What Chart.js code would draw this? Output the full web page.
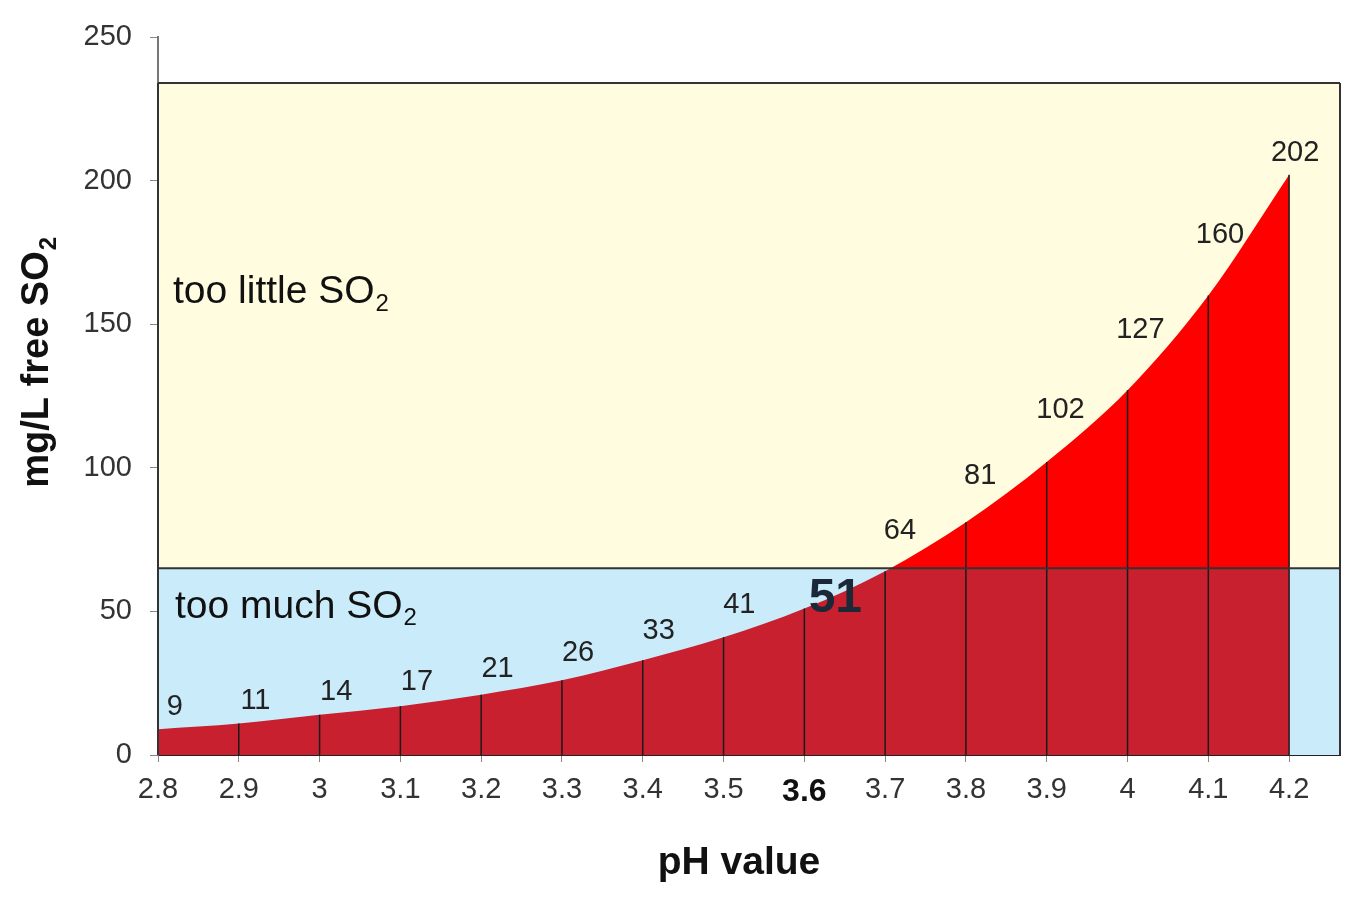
<!DOCTYPE html>
<html>
<head>
<meta charset="utf-8">
<title>Free SO2 needed by pH</title>
<script src="https://cdn.jsdelivr.net/npm/chart.js@4.4.1/dist/chart.umd.min.js"></script>
<style>
  html, body { margin: 0; padding: 0; background: #fff; }
  #wrap { width: 1362px; height: 900px; position: relative; }
</style>
</head>
<body>
<div id="wrap"><canvas id="so2Chart"></canvas></div>
<script>
// pH values along the x axis
var phValues = [2.8, 2.9, 3.0, 3.1, 3.2, 3.3, 3.4, 3.5, 3.6, 3.7, 3.8, 3.9, 4.0, 4.1, 4.2];
// mg/L free SO2 at each pH
var freeSO2 = [9, 11, 14, 17, 21, 26, 33, 41, 51, 64, 81, 102, 127, 160, 202];
// y axis ticks
var yTicks = [0, 50, 100, 150, 200, 250];
// the pH that gets the bold label
var highlightPH = 3.6;
// zone limits in mg/L
var zoneSplit = 65;
var zoneTop = 234;

var FONT = '"Liberation Sans", Arial, sans-serif';
var TEXT = '#222';

function fmtPH(v) {
  return String(Math.round(v * 10) / 10);
}

// draw "text" followed by a subscript 2
function drawSub(c, text, sub, x, y, size, weight) {
  c.font = weight + ' ' + size + 'px ' + FONT;
  c.textBaseline = 'middle';
  c.textAlign = 'left';
  c.fillText(text, x, y);
  var w = c.measureText(text).width;
  c.font = weight + ' ' + Math.round(size * 0.62) + 'px ' + FONT;
  c.fillText(sub, x + w + 1, y + size * 0.3);
}

var zonesPlugin = {
  id: 'zones',
  beforeDatasetsDraw: function (chart) {
    var c = chart.ctx, a = chart.chartArea;
    var x = chart.scales.x, y = chart.scales.y;
    var left = x.getPixelForValue(phValues[0]);
    var yS = y.getPixelForValue(zoneSplit), yT = y.getPixelForValue(zoneTop), y0 = y.getPixelForValue(0);
    c.save();
    c.fillStyle = '#FFFCDF';
    c.fillRect(left, yT, a.right - left, yS - yT);
    c.fillStyle = '#C9EBFA';
    c.fillRect(left, yS, a.right - left, y0 - yS);
    c.restore();
  },
  afterDatasetsDraw: function (chart) {
    var c = chart.ctx, a = chart.chartArea;
    var x = chart.scales.x, y = chart.scales.y;
    var meta = chart.getDatasetMeta(0);
    var left = x.getPixelForValue(phValues[0]);
    var yS = y.getPixelForValue(zoneSplit), yT = y.getPixelForValue(zoneTop), y0 = y.getPixelForValue(0);
    c.save();
    // drop lines under each point
    c.strokeStyle = '#1a1a1a';
    c.lineWidth = 1.5;
    meta.data.forEach(function (pt) {
      c.beginPath();
      c.moveTo(pt.x, y0);
      c.lineTo(pt.x, pt.y);
      c.stroke();
    });
    // zone borders
    c.strokeStyle = '#333';
    c.lineWidth = 2;
    c.beginPath();
    c.moveTo(left, yS); c.lineTo(a.right, yS);
    c.moveTo(left, yT); c.lineTo(a.right, yT);
    c.moveTo(a.right, yT); c.lineTo(a.right, y0);
    c.moveTo(left, yT); c.lineTo(left, y0);
    c.stroke();

    // value labels, lifted more where the curve is steep
    var n = meta.data.length;
    c.textAlign = 'center';
    c.textBaseline = 'middle';
    meta.data.forEach(function (pt, i) {
      var p = meta.data[Math.max(i - 1, 0)], q = meta.data[Math.min(i + 1, n - 1)];
      var s = Math.abs((q.y - p.y) / (q.x - p.x));
      if (phValues[i] === highlightPH) {
        c.fillStyle = '#1B2838';
        c.font = 'bold 48px ' + FONT;
        c.fillText(String(freeSO2[i]), pt.x + 31, pt.y - 10);
        return;
      }
      var last = i === n - 1;
      var off = last ? 22 : Math.min(19 + 40 * s, 60);
      var dx = last ? 6 : 17 - 4 * s;
      c.fillStyle = TEXT;
      c.font = '29px ' + FONT;
      c.fillText(String(freeSO2[i]), pt.x + dx, pt.y - off);
    });

    // zone captions
    c.fillStyle = '#111';
    drawSub(c, 'too little SO', '2', left + 15, y.getPixelForValue(161), 39, 'normal');
    drawSub(c, 'too much SO', '2', left + 17, y.getPixelForValue(51.5), 39, 'normal');

    // x axis title
    c.fillStyle = '#111';
    c.font = 'bold 39px ' + FONT;
    c.textAlign = 'center';
    c.textBaseline = 'middle';
    c.fillText('pH value', (a.left + a.right) / 2 - 10, a.bottom + 108);

    // y axis title
    c.translate(38, (a.top + a.bottom) / 2 - 34);
    c.rotate(-Math.PI / 2);
    c.font = 'bold 38px ' + FONT;
    var t = 'mg/L free SO';
    var w = c.measureText(t).width + 15;
    c.fillStyle = '#111';
    drawSub(c, t, '2', -w / 2, 0, 38, 'bold');
    c.restore();
  }
};

new Chart(document.getElementById('so2Chart').getContext('2d'), {
  type: 'line',
  data: {
    datasets: [{
      label: 'free SO2',
      data: phValues.map(function (v, i) { return { x: v, y: freeSO2[i] }; }),
      fill: 'origin',
      borderWidth: 0,
      pointRadius: 0,
      cubicInterpolationMode: 'monotone',
      backgroundColor: function (ctx) {
        var chart = ctx.chart, a = chart.chartArea;
        if (!a) return '#C8202F';
        var yS = chart.scales.y.getPixelForValue(zoneSplit);
        var stop = (yS - a.top) / (a.bottom - a.top);
        var g = chart.ctx.createLinearGradient(0, a.top, 0, a.bottom);
        g.addColorStop(0, '#FF0000');
        g.addColorStop(stop, '#FF0000');
        g.addColorStop(stop, '#C8202F');
        g.addColorStop(1, '#C8202F');
        return g;
      }
    }]
  },
  options: {
    responsive: true,
    maintainAspectRatio: false,
    animation: false,
    layout: { padding: { top: 37, right: 22, left: 14, bottom: 10 } },
    plugins: { legend: { display: false }, tooltip: { enabled: false } },
    scales: {
      x: {
        type: 'linear',
        min: 2.8,
        max: 4.263,
        afterBuildTicks: function (scale) {
          scale.ticks = phValues.map(function (v) { return { value: v }; });
        },
        afterFit: function (scale) { scale.height = 135; },
        grid: { drawOnChartArea: false, drawTicks: true, tickLength: 7, color: '#888' },
        border: { color: '#222', width: 2 },
        ticks: {
          padding: 11,
          autoSkip: false,
          maxRotation: 0,
          color: function (ctx) { return ctx.tick && ctx.tick.value === highlightPH ? '#111' : '#333'; },
          font: function (ctx) {
            return ctx.tick && ctx.tick.value === highlightPH
              ? { family: FONT, size: 32, weight: 'bold' }
              : { family: FONT, size: 29 };
          },
          callback: function (v) { return fmtPH(v); }
        },
        title: { display: false }
      },
      y: {
        min: 0,
        max: 250,
        afterBuildTicks: function (scale) {
          scale.ticks = yTicks.map(function (v) { return { value: v }; });
        },
        afterFit: function (scale) { scale.width = 144; },
        grid: { drawOnChartArea: false, drawTicks: true, tickLength: 8, color: '#888' },
        border: { color: '#777', width: 2 },
        ticks: {
          padding: 18,
          color: '#333',
          font: { family: FONT, size: 29 }
        }
      }
    }
  },
  plugins: [zonesPlugin]
});
</script>
</body>
</html>
